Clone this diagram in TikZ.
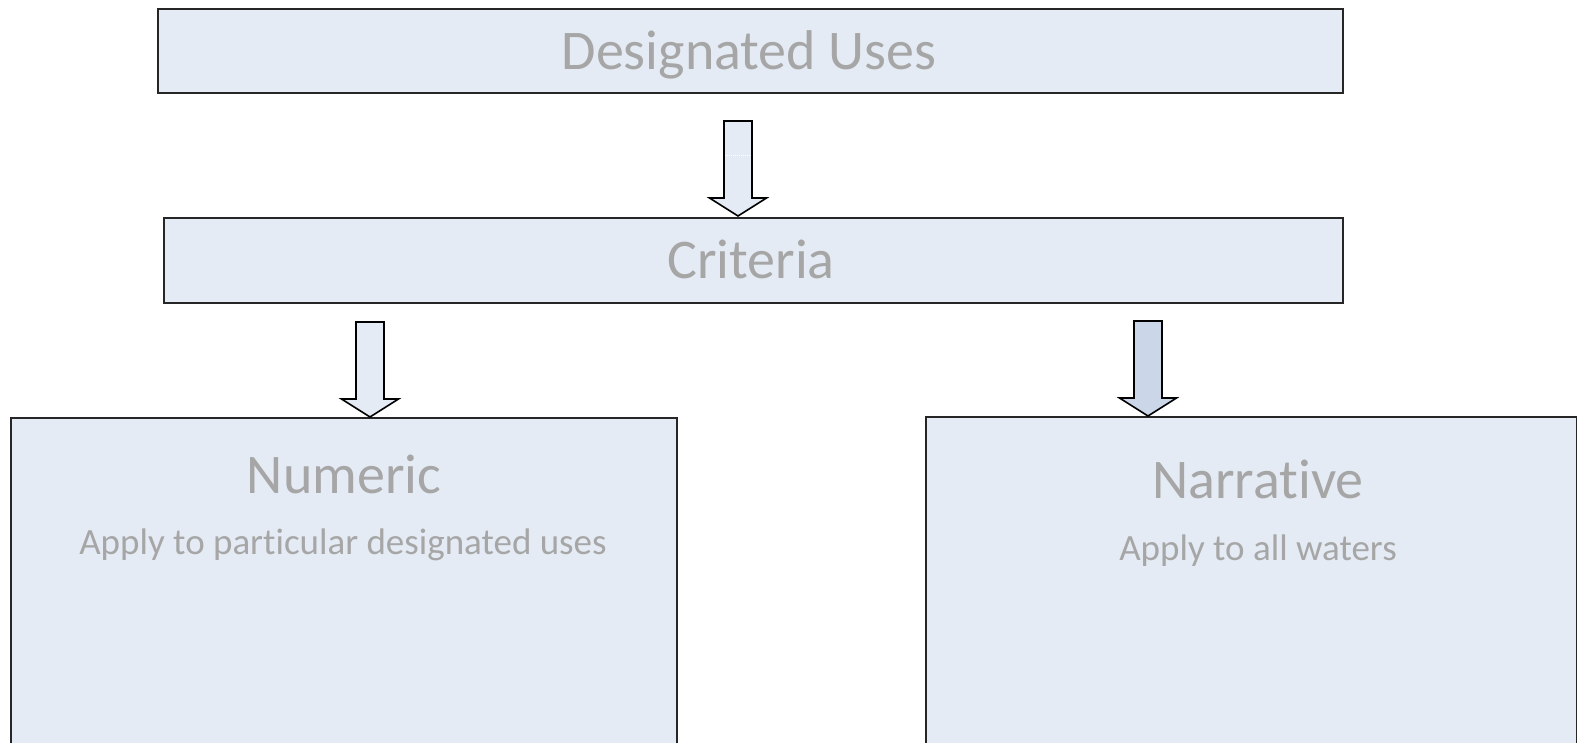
\documentclass[tikz,border=0pt]{standalone}
\usepackage{fontspec}
\setmainfont{Carlito}[Ligatures=NoCommon]
\usetikzlibrary{positioning,calc}

\definecolor{boxfill}{HTML}{E4EBF4}
\definecolor{arrowdark}{HTML}{CBD7E8}
\definecolor{labelgray}{HTML}{A6A6A6}

\tikzset{
	box/.style={draw=black!85, line width=1.6pt, fill=boxfill, inner sep=0pt, anchor=north west},
	heading/.style={text=labelgray, font=\fontsize{56}{60}\selectfont, anchor=base, inner sep=0pt},
	subline/.style={text=labelgray, font=\fontsize{37}{42}\selectfont, anchor=base, inner sep=0pt},
	blockarrow/.style={draw=black, line width=1.6pt, fill=boxfill, line join=miter}
}

% block arrow pointing down, tip at #2
\newcommand{\downblock}[2][boxfill]{%
	\draw[blockarrow, fill=#1] (#2) -- ++(-28.5,-18) -- ++(14.5,0) -- ++(0,-77) -- ++(28,0) -- ++(0,77) -- ++(14.5,0) -- cycle;}

\begin{document}
\begin{tikzpicture}[x=1pt,y=-1pt]
			\useasboundingbox (0,0) rectangle (1577,743);
			\clip (0,0) rectangle (1577,743);
			% boxes
			\node[box, minimum width=1185, minimum height=84] (uses) at (157,8) {};
			\node[box, minimum width=1179, minimum height=85] (criteria) at (163,217) {};
			\node[box, minimum width=666, minimum height=400] (numeric) at (10,417) {};
			\node[box, minimum width=651, minimum height=400] (narrative) at (925,416) {};
			% labels
			\node[heading] (usestext) at (749,70) {Designated Uses};
			\node[heading] (criteriatext) at (751,279) {Criteria};
			\node[heading] (numerictext) at (344,493) {Numeric};
			\node[subline] (numericsub) at (343,554) {Apply to particular designated uses};
			\node[heading] (narrativetext) at (1258,498) {Narrative};
			\node[subline] (narrativesub) at (1258,560) {Apply to all waters};
			% arrows
			\coordinate (tipcriteria) at (738,216);
			\coordinate (tipnumeric) at (370,417);
			\coordinate (tipnarrative) at (1148,416);
			\downblock{tipcriteria}
			\draw[white, line width=1pt, densely dotted] (725,156) -- (751,156);
			\downblock{tipnumeric}
			\downblock[arrowdark]{tipnarrative}
\end{tikzpicture}
\end{document}
